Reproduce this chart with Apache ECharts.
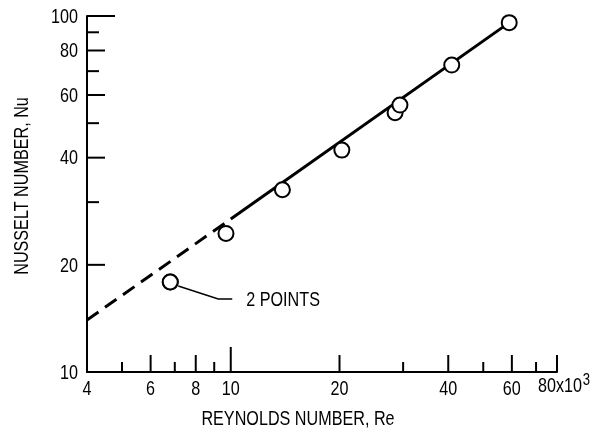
<!DOCTYPE html>
<html>
<head>
<meta charset="utf-8">
<script src="https://cdn.jsdelivr.net/npm/echarts@6/dist/echarts.min.js"></script>
<style>
  html, body { margin: 0; padding: 0; background: #fff; }
  #chart { width: 613px; height: 431px; }
</style>
</head>
<body>
<div id="chart"></div>
<script>
// Measured heat-transfer data: Reynolds number (thousands) vs Nusselt number
const reynolds = [6.8, 6.8, 9.7, 13.9, 20.3, 28.5, 29.4, 40.9, 59.0];
const nusselt  = [17.9, 17.9, 24.5, 32.5, 42.0, 53.5, 56.2, 72.8, 95.8];

// Correlation line: extrapolated (dashed) and fitted (solid) parts
const fitDashedRe = [4, 10];
const fitDashedNu = [14.0, 26.9];
const fitSolidRe  = [10, 59.0];
const fitSolidNu  = [26.9, 95.8];

// Annotated point for the doubled measurement
const noteRe = [6.8];
const noteNu = [17.9];
const noteText = '2 POINTS';

// Axis tick labels and tick marks
const xLabelValues = [4, 6, 8, 10, 20, 40, 60, 80];
const yLabelValues = [10, 20, 40, 60, 80, 100];
const xTickMajor = [6, 8, 20, 40, 60, 80];
const xTickMinor = [5, 7, 9, 30, 50, 70];
const xTickLong  = [10];
const yTickMajor = [20, 40, 60, 80];
const yTickMinor = [30, 50, 70, 90];
const yTickLong  = [100];

const xTitle = 'REYNOLDS NUMBER, Re';
const yTitle = 'NUSSELT NUMBER, Nu';

// Narrow lettering: regular sans compressed horizontally
const FONT = '"Liberation Sans", Arial, sans-serif';
const NARROW = 0.77;
const FS = 21;
const X_MIN = 4, X_MAX = 80, Y_MIN = 10, Y_MAX = 100;

function zip(a, b) { return a.map((v, i) => [v, b[i]]); }

function tickSeries(values, dir, len) {
  return {
    type: 'custom', coordinateSystem: 'cartesian2d', silent: true, z: 3,
    data: values.map(v => dir === 'x' ? [v, Y_MIN] : [X_MIN, v]),
    renderItem: (params, api) => {
      const p = api.coord([api.value(0), api.value(1)]);
      const shape = dir === 'x'
        ? { x1: p[0], y1: p[1], x2: p[0], y2: p[1] - len }
        : { x1: p[0], y1: p[1], x2: p[0] + len, y2: p[1] };
      return { type: 'line', shape, style: { stroke: '#000', lineWidth: 2 } };
    }
  };
}

function labelSeries(values, dir) {
  return {
    type: 'custom', coordinateSystem: 'cartesian2d', silent: true, z: 3,
    data: values.map(v => dir === 'x' ? [v, Y_MIN] : [X_MIN, v]),
    renderItem: (params, api) => {
      const v = dir === 'x' ? api.value(0) : api.value(1);
      const p = api.coord([api.value(0), api.value(1)]);
      if (dir === 'x') {
        if (v === X_MAX) {
          return {
            type: 'text', x: p[0] - 19, y: p[1] + 25, scaleX: NARROW,
            style: {
              text: '{a|' + v + 'x10}{s|3}',
              align: 'left', verticalAlign: 'bottom', fill: '#000',
              rich: {
                a: { fontFamily: FONT, fontSize: FS, verticalAlign: 'bottom' },
                s: { fontFamily: FONT, fontSize: 17, verticalAlign: 'bottom', padding: [0, 0, 8, 1] }
              }
            }
          };
        }
        return {
          type: 'text', x: p[0], y: p[1] + 7, scaleX: NARROW,
          style: { text: String(v), font: FS + 'px ' + FONT, fill: '#000', align: 'center', verticalAlign: 'top' }
        };
      }
      return {
        type: 'text', x: p[0] - 9, y: p[1] + 1, scaleX: NARROW,
        style: { text: String(v), font: FS + 'px ' + FONT, fill: '#000', align: 'right', verticalAlign: 'middle' }
      };
    }
  };
}

const chart = echarts.init(document.getElementById('chart'), null, { renderer: 'canvas' });

chart.setOption({
  animation: false,
  backgroundColor: '#fff',
  grid: { left: 87, right: 56, top: 16, bottom: 59, containLabel: false },
  xAxis: {
    type: 'log', logBase: 10, min: X_MIN, max: X_MAX,
    axisLine: { show: true, lineStyle: { color: '#000', width: 2 } },
    axisTick: { show: false }, axisLabel: { show: false }, splitLine: { show: false }, minorTick: { show: false }
  },
  yAxis: {
    type: 'log', logBase: 10, min: Y_MIN, max: Y_MAX,
    axisLine: { show: true, lineStyle: { color: '#000', width: 2 } },
    axisTick: { show: false }, axisLabel: { show: false }, splitLine: { show: false }, minorTick: { show: false }
  },
  graphic: [
    {
      type: 'text', x: 298, y: 419, scaleX: NARROW,
      style: { text: xTitle, font: FS + 'px ' + FONT, fill: '#000', align: 'center', verticalAlign: 'middle' }
    },
    {
      type: 'text', x: 22, y: 186, rotation: Math.PI / 2, scaleX: NARROW,
      style: { text: yTitle, font: FS + 'px ' + FONT, fill: '#000', align: 'center', verticalAlign: 'middle' }
    }
  ],
  series: [
    tickSeries(xTickMajor, 'x', 17),
    tickSeries(xTickMinor, 'x', 10),
    tickSeries(xTickLong, 'x', 25),
    tickSeries(yTickMajor, 'y', 18),
    tickSeries(yTickMinor, 'y', 12),
    tickSeries(yTickLong, 'y', 28),
    labelSeries(xLabelValues, 'x'),
    labelSeries(yLabelValues, 'y'),
    {
      type: 'line', data: zip(fitDashedRe, fitDashedNu), showSymbol: false, silent: true, z: 2,
      lineStyle: { color: '#000', width: 3, type: [14, 8] }
    },
    {
      type: 'line', data: zip(fitSolidRe, fitSolidNu), showSymbol: false, silent: true, z: 2,
      lineStyle: { color: '#000', width: 3 }
    },
    {
      type: 'scatter', data: zip(reynolds, nusselt), symbol: 'circle', symbolSize: 15, z: 4,
      itemStyle: { color: '#fff', borderColor: '#000', borderWidth: 2, opacity: 1 }
    },
    {
      type: 'custom', coordinateSystem: 'cartesian2d', silent: true, z: 4,
      data: zip(noteRe, noteNu),
      renderItem: (params, api) => {
        const p = api.coord([api.value(0), api.value(1)]);
        return {
          type: 'group',
          children: [
            {
              type: 'polyline',
              shape: { points: [[p[0] + 8, p[1] + 4], [p[0] + 48, p[1] + 17], [p[0] + 62, p[1] + 17]] },
              style: { stroke: '#000', lineWidth: 1.5, fill: null }
            },
            {
              type: 'text', x: p[0] + 76, y: p[1] + 18, scaleX: NARROW,
              style: { text: noteText, font: FS + 'px ' + FONT, fill: '#000', align: 'left', verticalAlign: 'middle' }
            }
          ]
        };
      }
    }
  ]
});
</script>
</body>
</html>
